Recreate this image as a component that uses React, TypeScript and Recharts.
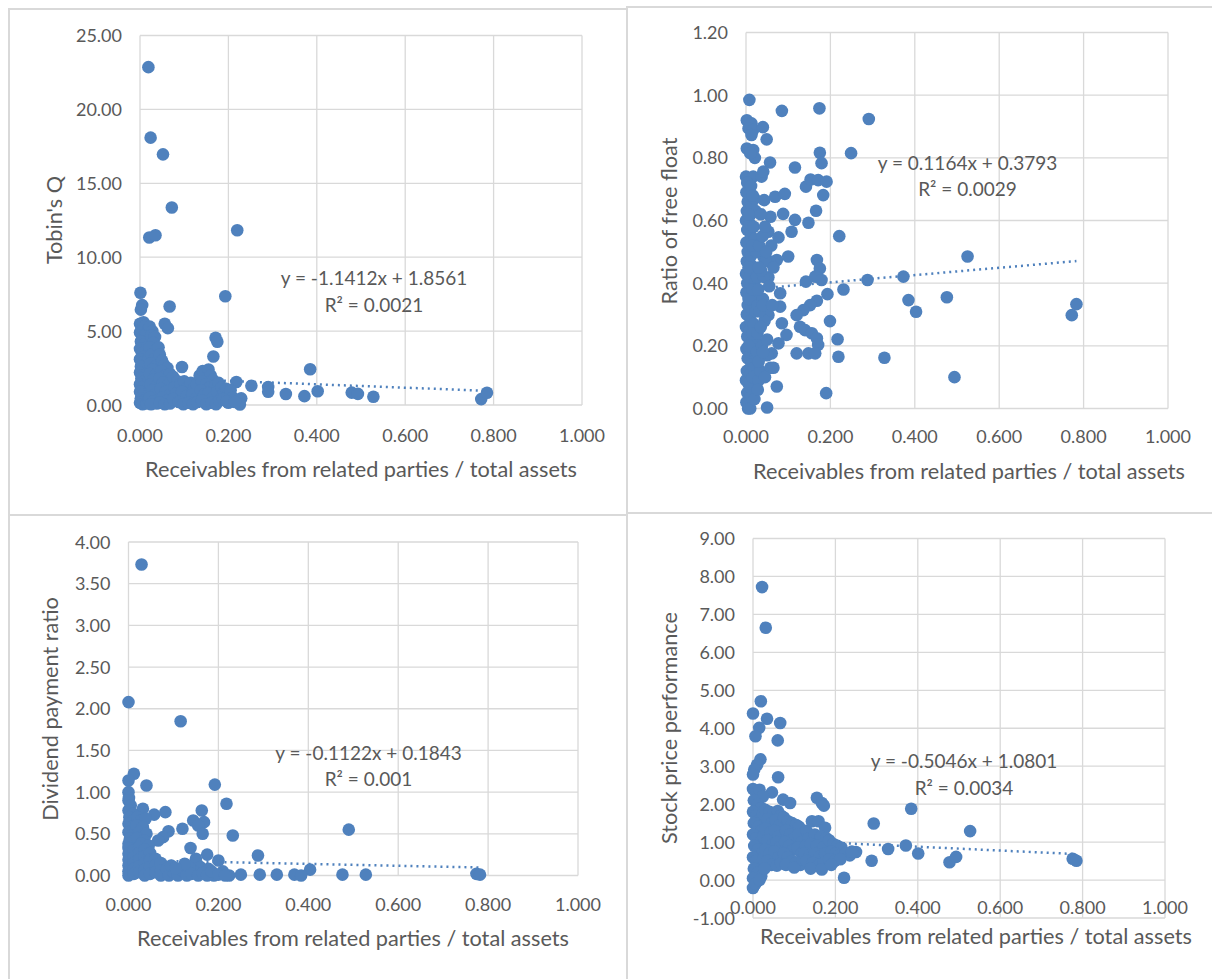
import React from 'react';
import { ScatterChart, Scatter, XAxis, YAxis, CartesianGrid, ReferenceLine } from 'recharts';

const BLUE = '#4f81bd';
const GRID = '#d9d9d9';
const TEXT = '#595959';
const FONT = 'Lato, "Open Sans", sans-serif';

type Pt = [number, number];

const X_TICKS = [0, 0.2, 0.4, 0.6, 0.8, 1.0];
const X_TITLE = 'Receivables from related parties / total assets';

const TOBINS_Q_TICKS = [0, 5, 10, 15, 20, 25];
const FREE_FLOAT_TICKS = [0, 0.2, 0.4, 0.6, 0.8, 1.0, 1.2];
const DIVIDEND_TICKS = [0, 0.5, 1, 1.5, 2, 2.5, 3, 3.5, 4];
const STOCK_TICKS = [-1, 0, 1, 2, 3, 4, 5, 6, 7, 8, 9];

// regression shown on each chart (slope, intercept, R²)
const TOBINS_Q_FIT = { slope: -1.1412, intercept: 1.8561, r2: 0.0021 };
const FREE_FLOAT_FIT = { slope: 0.1164, intercept: 0.3793, r2: 0.0029 };
const DIVIDEND_FIT = { slope: -0.1122, intercept: 0.1843, r2: 0.001 };
const STOCK_FIT = { slope: -0.5046, intercept: 1.0801, r2: 0.0034 };

const TOBINS_Q: Pt[] = [
  [0.019, 22.86], [0.024, 18.09], [0.052, 16.96], [0.072, 13.36], [0.021, 11.33], [0.035, 11.49],
  [0.22, 11.82], [0.193, 7.36], [0.001, 7.59], [0.005, 6.76], [0.002, 6.45], [0.067, 6.66],
  [0.056, 5.5], [0.063, 5.2], [0.171, 4.55], [0.175, 4.28], [0.166, 3.28], [0.095, 2.57],
  [0.385, 2.42], [0.218, 1.56], [0.252, 1.3], [0.29, 1.22], [0.29, 0.9], [0.33, 0.74],
  [0.372, 0.6], [0.402, 0.93], [0.479, 0.84], [0.493, 0.75], [0.528, 0.56], [0.772, 0.4],
  [0.785, 0.83], [0.229, 0.45], [0.226, 0.03], [0.2, 0.15],
  [0.0, 5.5], [0.004, 5.2], [0.008, 5.6], [0.012, 5.35], [0.0, 4.9], [0.006, 4.6], [0.014, 4.8],
  [0.002, 4.3], [0.01, 4.1], [0.0, 3.8], [0.016, 3.9], [0.005, 3.5], [0.012, 3.3], [0.0, 3.1],
  [0.008, 2.9], [0.018, 3.0], [0.002, 2.6], [0.011, 2.4], [0.0, 2.2], [0.006, 2.0], [0.015, 2.1],
  [0.003, 1.8], [0.01, 1.6], [0.0, 1.4], [0.018, 1.5], [0.005, 1.2], [0.013, 1.0], [0.0, 0.9],
  [0.008, 0.7], [0.016, 0.6], [0.002, 0.45], [0.01, 0.3], [0.0, 0.15], [0.006, 0.05], [0.015, 0.1],
  [0.02, 0.35],
  [0.022, 5.3], [0.028, 5.0], [0.025, 4.7], [0.034, 4.6], [0.03, 4.2], [0.022, 3.9], [0.036, 3.7],
  [0.026, 3.4], [0.032, 3.1], [0.024, 2.8], [0.038, 2.7], [0.028, 2.4], [0.022, 2.1], [0.035, 2.0],
  [0.03, 1.7], [0.024, 1.4], [0.038, 1.3], [0.028, 1.0], [0.034, 0.7], [0.022, 0.5], [0.03, 0.25],
  [0.038, 0.1], [0.025, 0.05],
  [0.042, 3.9], [0.045, 3.4], [0.05, 3.0], [0.055, 2.7], [0.062, 2.5], [0.048, 2.3], [0.058, 2.0],
  [0.068, 2.1], [0.044, 1.8], [0.052, 1.5], [0.065, 1.4], [0.047, 1.1], [0.058, 0.9], [0.068, 0.7],
  [0.05, 0.5], [0.062, 0.3], [0.045, 0.15], [0.056, 0.05], [0.068, 0.1],
  [0.075, 1.9], [0.085, 1.6], [0.078, 1.2], [0.092, 1.4], [0.1, 1.6], [0.108, 1.2], [0.115, 1.5],
  [0.122, 1.1], [0.128, 1.4], [0.082, 0.8], [0.095, 0.9], [0.105, 0.6], [0.118, 0.7], [0.125, 0.4],
  [0.075, 0.4], [0.088, 0.2], [0.098, 0.05], [0.11, 0.15], [0.12, 0.05], [0.13, 0.2],
  [0.135, 2.0], [0.142, 2.3], [0.148, 2.1], [0.155, 2.4], [0.16, 2.0], [0.165, 1.7], [0.14, 1.6],
  [0.15, 1.4], [0.158, 1.2], [0.17, 1.3], [0.178, 1.5], [0.138, 1.0], [0.145, 0.7], [0.155, 0.8],
  [0.165, 0.5], [0.175, 0.9], [0.14, 0.3], [0.15, 0.05], [0.162, 0.15], [0.172, 0.05], [0.18, 0.3],
  [0.185, 1.2], [0.19, 0.9], [0.195, 1.1], [0.2, 0.7], [0.205, 1.0], [0.21, 0.5], [0.188, 0.4],
  [0.196, 0.25], [0.215, 0.2],
];

const FREE_FLOAT: Pt[] = [
  [0.008, 0.985], [0.085, 0.95], [0.174, 0.958], [0.291, 0.924],
  [0.002, 0.92], [0.013, 0.91], [0.006, 0.894], [0.017, 0.889], [0.013, 0.873], [0.04, 0.898], [0.049, 0.859],
  [0.002, 0.83], [0.017, 0.825], [0.021, 0.8], [0.01, 0.815],
  [0.057, 0.785], [0.175, 0.816], [0.179, 0.783], [0.249, 0.815], [0.116, 0.769],
  [0.0, 0.74], [0.017, 0.74], [0.037, 0.74], [0.041, 0.756],
  [0.142, 0.708], [0.153, 0.731], [0.171, 0.729], [0.191, 0.724], [0.183, 0.681],
  [0.043, 0.665], [0.069, 0.676], [0.092, 0.685], [0.166, 0.631],
  [0.058, 0.612], [0.088, 0.621], [0.116, 0.602], [0.148, 0.593], [0.221, 0.55],
  [0.053, 0.564], [0.077, 0.546], [0.108, 0.564],
  [0.041, 0.485], [0.073, 0.474], [0.1, 0.485], [0.525, 0.485], [0.168, 0.474], [0.175, 0.447],
  [0.053, 0.419], [0.142, 0.405], [0.164, 0.421], [0.179, 0.41], [0.288, 0.41], [0.373, 0.421], [0.231, 0.38],
  [0.081, 0.368], [0.081, 0.325], [0.193, 0.365], [0.385, 0.346], [0.476, 0.355], [0.403, 0.309],
  [0.168, 0.344], [0.152, 0.33], [0.136, 0.314], [0.12, 0.298], [0.053, 0.298], [0.085, 0.272], [0.199, 0.279],
  [0.128, 0.261], [0.14, 0.25], [0.156, 0.24], [0.168, 0.224], [0.171, 0.203],
  [0.096, 0.235], [0.077, 0.208], [0.061, 0.176], [0.217, 0.221],
  [0.12, 0.176], [0.148, 0.176], [0.164, 0.176], [0.219, 0.165], [0.328, 0.162], [0.494, 0.1],
  [0.073, 0.07], [0.19, 0.049], [0.05, 0.003], [0.005, 0.0], [0.783, 0.333], [0.772, 0.298],
  [0.001, 0.02], [0.003, 0.05], [0.0, 0.09], [0.002, 0.12], [0.004, 0.16], [0.001, 0.19], [0.003, 0.23],
  [0.0, 0.26], [0.002, 0.3], [0.004, 0.33], [0.001, 0.37], [0.003, 0.4], [0.0, 0.43], [0.002, 0.47],
  [0.004, 0.5], [0.001, 0.53], [0.003, 0.57], [0.0, 0.6], [0.002, 0.63], [0.004, 0.66], [0.001, 0.69],
  [0.003, 0.72],
  [0.01, 0.0], [0.012, 0.04], [0.009, 0.07], [0.011, 0.11], [0.013, 0.14], [0.01, 0.18], [0.012, 0.21],
  [0.009, 0.25], [0.011, 0.28], [0.013, 0.32], [0.01, 0.35], [0.012, 0.39], [0.009, 0.42], [0.011, 0.46],
  [0.013, 0.49], [0.01, 0.52], [0.012, 0.55], [0.009, 0.59], [0.011, 0.62], [0.013, 0.65], [0.01, 0.68],
  [0.012, 0.71],
  [0.02, 0.03], [0.022, 0.08], [0.019, 0.13], [0.024, 0.17], [0.021, 0.22], [0.018, 0.27], [0.023, 0.31],
  [0.02, 0.36], [0.022, 0.41], [0.019, 0.45], [0.024, 0.5], [0.021, 0.54], [0.018, 0.58], [0.023, 0.63],
  [0.02, 0.67],
  [0.006, 0.08], [0.016, 0.1], [0.006, 0.2], [0.016, 0.24], [0.006, 0.35], [0.016, 0.38], [0.006, 0.45],
  [0.016, 0.52], [0.006, 0.62], [0.016, 0.68], [0.026, 0.42], [0.028, 0.33], [0.026, 0.18], [0.03, 0.09],
  [0.042, 0.42], [0.052, 0.3], [0.055, 0.47], [0.06, 0.52], [0.05, 0.17],
  [0.028, 0.06], [0.034, 0.12], [0.03, 0.15], [0.038, 0.2], [0.027, 0.24], [0.044, 0.28], [0.032, 0.31],
  [0.04, 0.35], [0.029, 0.38], [0.036, 0.44], [0.046, 0.47], [0.031, 0.52], [0.039, 0.55],
  [0.035, 0.62], [0.045, 0.58], [0.03, 0.45], [0.055, 0.39], [0.04, 0.33], [0.062, 0.33], [0.035, 0.26],
  [0.05, 0.22], [0.04, 0.18], [0.058, 0.13], [0.045, 0.1], [0.065, 0.45], [0.048, 0.5], [0.065, 0.13],
];

const DIVIDEND: Pt[] = [
  [0.029, 3.73], [0.0, 2.08], [0.116, 1.85], [0.012, 1.22], [0.0, 1.14], [0.04, 1.08], [0.192, 1.09],
  [0.218, 0.86], [0.0, 1.0], [0.001, 0.93], [0.032, 0.8], [0.057, 0.73], [0.082, 0.76], [0.163, 0.78],
  [0.168, 0.64], [0.144, 0.66], [0.155, 0.6], [0.12, 0.56], [0.089, 0.53], [0.077, 0.46], [0.066, 0.42],
  [0.165, 0.5], [0.232, 0.48], [0.49, 0.55], [0.138, 0.33], [0.288, 0.24], [0.404, 0.07], [0.25, 0.01],
  [0.292, 0.01], [0.33, 0.01], [0.369, 0.01], [0.384, 0.0], [0.476, 0.01], [0.528, 0.01], [0.774, 0.02],
  [0.782, 0.01], [0.224, 0.0], [0.19, 0.0], [0.2, 0.18], [0.175, 0.25], [0.15, 0.2], [0.16, 0.1],
  [0.145, 0.05], [0.178, 0.08], [0.21, 0.05],
  [0.0, 0.9], [0.005, 0.84], [0.0, 0.78], [0.01, 0.74], [0.002, 0.7], [0.012, 0.66], [0.0, 0.62],
  [0.006, 0.58], [0.014, 0.55], [0.0, 0.52], [0.008, 0.48], [0.003, 0.44], [0.012, 0.41], [0.0, 0.38],
  [0.02, 0.7], [0.028, 0.66], [0.038, 0.68], [0.018, 0.6], [0.032, 0.58], [0.024, 0.52], [0.04, 0.5],
  [0.02, 0.45], [0.035, 0.42], [0.028, 0.38], [0.045, 0.36],
  [0.0, 0.33], [0.0, 0.26], [0.0, 0.19], [0.0, 0.12], [0.0, 0.05], [0.0, 0.0],
  [0.012, 0.3], [0.012, 0.22], [0.012, 0.15], [0.012, 0.08], [0.012, 0.02],
  [0.024, 0.34], [0.024, 0.27], [0.024, 0.19], [0.024, 0.11], [0.024, 0.04],
  [0.036, 0.31], [0.036, 0.23], [0.036, 0.15], [0.036, 0.07], [0.036, 0.0],
  [0.048, 0.27], [0.048, 0.19], [0.048, 0.1], [0.048, 0.02],
  [0.06, 0.2], [0.06, 0.12], [0.06, 0.04], [0.072, 0.15], [0.072, 0.06], [0.072, 0.0],
  [0.085, 0.08], [0.09, 0.0], [0.1, 0.04], [0.11, 0.0], [0.12, 0.06], [0.13, 0.0], [0.135, 0.1],
  [0.14, 0.02], [0.155, 0.0], [0.165, 0.03], [0.175, 0.0], [0.185, 0.05], [0.2, 0.01], [0.215, 0.0],
  [0.095, 0.12], [0.125, 0.14], [0.105, 0.09],
];

const STOCK_PERF: Pt[] = [
  [0.022, 7.72], [0.031, 6.65], [0.019, 4.71], [0.0, 4.39], [0.034, 4.25], [0.015, 4.01], [0.006, 3.79],
  [0.066, 4.14], [0.06, 3.68], [0.018, 3.18], [0.01, 3.04], [0.003, 2.91], [0.0, 2.78], [0.061, 2.71],
  [0.046, 2.31], [0.073, 2.12], [0.09, 2.03], [0.155, 2.17], [0.167, 2.03], [0.172, 1.96], [0.293, 1.49],
  [0.384, 1.88], [0.527, 1.29], [0.328, 0.82], [0.371, 0.91], [0.401, 0.7], [0.288, 0.51], [0.477, 0.47],
  [0.493, 0.61], [0.776, 0.56], [0.785, 0.51], [0.25, 0.74], [0.221, 0.06], [0.0, -0.21], [0.01, -0.03],
  [0.0, 2.4], [0.008, 2.3], [0.016, 2.38], [0.024, 2.2], [0.002, 2.1], [0.012, 2.0], [0.02, 1.9],
  [0.0, 1.8], [0.008, 1.7], [0.016, 1.6], [0.024, 1.75], [0.002, 1.5], [0.012, 1.4], [0.02, 1.3],
  [0.0, 1.2], [0.008, 1.1], [0.018, 1.0], [0.025, 1.15], [0.003, 0.9], [0.012, 0.8], [0.022, 0.7],
  [0.0, 0.6], [0.008, 0.5], [0.018, 0.4], [0.025, 0.55], [0.002, 0.3], [0.012, 0.2], [0.02, 0.1],
  [0.0, 0.05], [0.006, -0.1], [0.016, 0.0],
  [0.03, 1.85], [0.04, 1.8], [0.05, 1.75], [0.06, 1.82], [0.068, 1.7], [0.035, 1.6], [0.045, 1.5],
  [0.055, 1.58], [0.065, 1.45], [0.03, 1.35], [0.042, 1.25], [0.052, 1.3], [0.062, 1.15], [0.035, 1.05],
  [0.048, 0.95], [0.058, 1.0], [0.068, 0.9], [0.03, 0.8], [0.04, 0.7], [0.052, 0.75], [0.062, 0.6],
  [0.035, 0.5], [0.045, 0.4], [0.058, 0.38], [0.068, 0.45], [0.028, 0.3],
  [0.075, 1.65], [0.085, 1.55], [0.095, 1.5], [0.105, 1.45], [0.112, 1.4], [0.08, 1.3], [0.09, 1.2],
  [0.1, 1.1], [0.11, 1.2], [0.118, 1.0], [0.078, 1.0], [0.088, 0.9], [0.098, 0.8], [0.108, 0.85],
  [0.118, 0.7], [0.075, 0.7], [0.085, 0.6], [0.095, 0.5], [0.105, 0.45], [0.115, 0.4], [0.08, 0.4],
  [0.1, 0.33], [0.12, 0.55],
  [0.13, 1.3], [0.143, 1.55], [0.159, 1.55], [0.175, 1.38], [0.135, 1.1], [0.15, 1.2], [0.165, 1.15],
  [0.178, 1.1], [0.128, 0.9], [0.14, 0.95], [0.155, 0.9], [0.17, 0.85], [0.125, 0.7], [0.138, 0.65],
  [0.15, 0.7], [0.162, 0.62], [0.175, 0.7], [0.13, 0.5], [0.145, 0.45], [0.16, 0.4], [0.172, 0.45],
  [0.14, 0.3], [0.167, 0.28],
  [0.185, 1.05], [0.195, 0.95], [0.205, 0.9], [0.215, 0.85], [0.19, 0.75], [0.2, 0.7], [0.21, 0.65],
  [0.225, 0.7], [0.235, 0.65], [0.185, 0.55], [0.198, 0.5], [0.212, 0.55], [0.24, 0.75], [0.19, 0.4],
];

type Fit = { slope: number; intercept: number; r2: number };

interface PanelProps {
  points: Pt[];
  yTicks: number[];
  yTitle: string;
  fit: Fit;
  box: { left: number; top: number; width: number; height: number };
  plot: { x0: number; x1: number; y0: number; y1: number };
  xTickDy: number;
  xTitle: { x: number; y: number };
  yTitleX: number;
  eq: { x: number; y: number };
}

const Txt = ({ x, y, size, rotate, children }: any) => (
  <div
    style={{
      position: 'absolute',
      left: x,
      top: y,
      transform: `translate(-50%, -50%)${rotate ? ' rotate(-90deg)' : ''}`,
      fontSize: size,
      color: TEXT,
      whiteSpace: 'nowrap',
      lineHeight: 1,
      fontFamily: FONT,
    }}
  >
    {children}
  </div>
);

const Dot = (props: any) => <circle cx={props.cx} cy={props.cy} r={6.3} fill={BLUE} />;

const Panel: React.FC<PanelProps> = ({ points, yTicks, yTitle, fit, box, plot, xTickDy, xTitle, yTitleX, eq }) => {
  const Y_AXIS_W = 60;
  const X_AXIS_H = 40;
  const margin = {
    left: plot.x0 - box.left - Y_AXIS_W,
    right: box.left + box.width - plot.x1,
    top: plot.y0 - box.top,
    bottom: box.top + box.height - plot.y1 - X_AXIS_H,
  };
  const data = points.map(([x, y]) => ({ x, y }));
  const xs = points.map(p => p[0]);
  const xMin = Math.min(...xs);
  const xMax = Math.max(...xs);
  const line = (x: number) => fit.slope * x + fit.intercept;

  return (
    <>
      <div style={{ position: 'absolute', left: box.left, top: box.top }}>
        <ScatterChart width={box.width} height={box.height} margin={margin}>
          <CartesianGrid stroke={GRID} strokeWidth={1.3} />
          <XAxis
            type="number"
            dataKey="x"
            domain={[0, 1]}
            ticks={X_TICKS}
            interval={0}
            height={X_AXIS_H}
            tickSize={0}
            tickMargin={0}
            tickLine={false}
            axisLine={false}
            tick={(p: any) => (
              <text x={p.x} y={p.y + xTickDy} textAnchor="middle" fill={TEXT} fontSize={18} fontFamily={FONT}>
                {Number(p.payload.value).toFixed(3)}
              </text>
            )}
          />
          <YAxis
            type="number"
            dataKey="y"
            domain={[yTicks[0], yTicks[yTicks.length - 1]]}
            ticks={yTicks}
            interval={0}
            width={Y_AXIS_W}
            tickSize={0}
            tickMargin={0}
            tickLine={false}
            axisLine={false}
            tick={(p: any) => (
              <text x={p.x - 18} y={p.y + 6.5} textAnchor="end" fill={TEXT} fontSize={18} fontFamily={FONT}>
                {Number(p.payload.value).toFixed(2)}
              </text>
            )}
          />
          <Scatter data={data} fill={BLUE} shape={Dot} isAnimationActive={false} />
          <ReferenceLine
            segment={[{ x: xMin, y: line(xMin) }, { x: xMax, y: line(xMax) }]}
            stroke={BLUE}
            strokeWidth={2.5}
            strokeDasharray="2 4"
          />
        </ScatterChart>
      </div>
      <Txt x={xTitle.x} y={xTitle.y} size={21.7}>{X_TITLE}</Txt>
      <Txt x={yTitleX} y={(plot.y0 + plot.y1) / 2} size={21.7} rotate>{yTitle}</Txt>
      <Txt x={eq.x} y={eq.y} size={19}>
        {`y = ${fit.slope.toFixed(4)}x + ${fit.intercept.toFixed(4)}`}
      </Txt>
      <Txt x={eq.x} y={eq.y + 26.5} size={19}>{`R² = ${fit.r2}`}</Txt>
    </>
  );
};

const hLine = (x: number, y: number, w: number) => (
  <div style={{ position: 'absolute', left: x, top: y, width: w, height: 1.5, background: GRID }} />
);
const vLine = (x: number, y: number, h: number) => (
  <div style={{ position: 'absolute', left: x, top: y, width: 1.5, height: h, background: GRID }} />
);

export default function App() {
  return (
    <div style={{ position: 'absolute', left: 0, top: 0, width: 1212, height: 979, background: '#fff', overflow: 'hidden', fontFamily: FONT }}>
      {hLine(8, 8, 618)}
      {hLine(626, 6, 586)}
      {hLine(8, 514, 618)}
      {hLine(626, 512, 586)}
      {vLine(8, 8, 971)}
      {vLine(626, 6, 973)}
      <Panel
        points={TOBINS_Q}
        yTicks={TOBINS_Q_TICKS}
        yTitle="Tobin's Q"
        fit={TOBINS_Q_FIT}
        box={{ left: 8, top: 8, width: 618, height: 506 }}
        plot={{ x0: 140, x1: 582, y0: 35.5, y1: 405 }}
        xTickDy={36.5}
        xTitle={{ x: 361, y: 470 }}
        yTitleX={55}
        eq={{ x: 374, y: 277 }}
      />
      <Panel
        points={FREE_FLOAT}
        yTicks={FREE_FLOAT_TICKS}
        yTitle="Ratio of free float"
        fit={FREE_FLOAT_FIT}
        box={{ left: 626, top: 6, width: 586, height: 506 }}
        plot={{ x0: 746, x1: 1168, y0: 32.5, y1: 408.5 }}
        xTickDy={34.7}
        xTitle={{ x: 969, y: 471.7 }}
        yTitleX={670}
        eq={{ x: 967.5, y: 161.7 }}
      />
      <Panel
        points={DIVIDEND}
        yTicks={DIVIDEND_TICKS}
        yTitle="Dividend payment ratio"
        fit={DIVIDEND_FIT}
        box={{ left: 8, top: 514, width: 618, height: 465 }}
        plot={{ x0: 128.5, x1: 578, y0: 542, y1: 875.5 }}
        xTickDy={35.5}
        xTitle={{ x: 353, y: 939 }}
        yTitleX={51}
        eq={{ x: 368.5, y: 751.7 }}
      />
      <Panel
        points={STOCK_PERF}
        yTicks={STOCK_TICKS}
        yTitle="Stock price performance"
        fit={STOCK_FIT}
        box={{ left: 626, top: 512, width: 586, height: 467 }}
        plot={{ x0: 753, x1: 1165, y0: 538.5, y1: 918 }}
        xTickDy={-4}
        xTitle={{ x: 976, y: 936.7 }}
        yTitleX={670}
        eq={{ x: 964, y: 760 }}
      />
    </div>
  );
}
